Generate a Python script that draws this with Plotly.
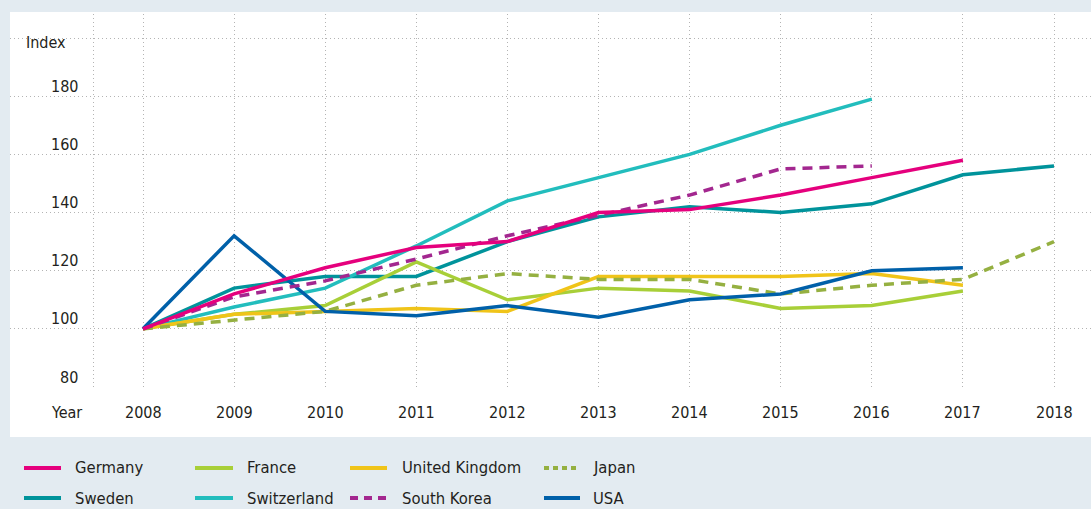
import plotly.graph_objects as go

years = [2008, 2009, 2010, 2011, 2012, 2013, 2014, 2015, 2016, 2017, 2018]
germany = [100, 112, 121, 128, 130, 140, 141, 146, 152, 158, None]
sweden = [100, 114, 118, 118, 130, 138.5, 142, 140, 143, 153, 156]
france = [100, 105, 108, 123, 110, 114, 113, 107, 108, 113, None]
switzerland = [100, 107.5, 114, 128.5, 144, 152, 160, 170, 179, None, None]
uk = [100, 105, 106, 107, 106, 118, 118, 118, 119, 115, None]
japan = [100, 103, 106, 115, 119, 117, 117, 112, 115, 117, 130]
south_korea = [100, 111, 116.5, 124, 132, 139, 146, 155, 156, None, None]
usa = [100, 132, 106, 104.5, 108, 104, 110, 112, 120, 121, None]

y_ticks = [80, 100, 120, 140, 160, 180]
x_tick_labels = [str(y) for y in years]

FONT = "DejaVu Sans Condensed"
TXT = "#231f20"
BG = "#e3ebf1"

# (name, data, color, dash)
series = [
    ("Sweden", sweden, "#00939b", None),
    ("Switzerland", switzerland, "#22bdbd", None),
    ("France", france, "#a8cf38", None),
    ("United Kingdom", uk, "#f0c419", None),
    ("Japan", japan, "#95b041", "10px,7px"),
    ("USA", usa, "#0060a9", None),
    ("South Korea", south_korea, "#a3278f", "10px,7px"),
    ("Germany", germany, "#e5007d", None),
]

fig = go.Figure()
for name, data, color, dash in series:
    fig.add_trace(go.Scatter(
        x=years, y=data, mode="lines", name=name,
        line=dict(color=color, width=3.5, dash=dash),
        connectgaps=False, showlegend=False,
    ))

W, H = 1091, 509
L, R, T, B = 10, 0, 14, 122
PW, PH = W - L - R, H - T - B


def px_x(px):
    return (px - L) / PW


def px_y(py):
    return (H - B - py) / PH


shapes = []
annotations = []

# white panel
shapes.append(dict(type="rect", xref="paper", yref="paper",
                   x0=px_x(10), x1=px_x(1095), y0=px_y(437), y1=px_y(12),
                   fillcolor="white", line=dict(width=0), layer="below"))

# y labels
for v in y_ticks:
    annotations.append(dict(x=px_x(80), xref="paper", y=v, yref="y",
                            text=str(v), showarrow=False, xanchor="right",
                            yanchor="middle", yshift=10,
                            font=dict(family=FONT, size=16, color=TXT)))
annotations.append(dict(x=px_x(68), xref="paper", y=px_y(42), yref="paper",
                        text="Index", showarrow=False, xanchor="right",
                        yanchor="middle",
                        font=dict(family=FONT, size=16, color=TXT)))
# x labels
for yr, lab in zip(years, x_tick_labels):
    annotations.append(dict(x=yr, xref="x", y=px_y(412), yref="paper",
                            text=lab, showarrow=False, xanchor="center",
                            yanchor="middle",
                            font=dict(family=FONT, size=16, color=TXT)))
annotations.append(dict(x=px_x(66), xref="paper", y=px_y(412), yref="paper",
                        text="Year", showarrow=False, xanchor="center",
                        yanchor="middle",
                        font=dict(family=FONT, size=16, color=TXT)))

# legend (manual)
legend_items = [
    ("Germany", "#e5007d", None, 24, 61, 73, 468),
    ("France", "#a8cf38", None, 195, 233, 245, 468),
    ("United Kingdom", "#f0c419", None, 350, 387, 400, 468),
    ("Japan", "#95b041", "5px,4px", 544, 580, 591, 468),
    ("Sweden", "#00939b", None, 24, 61, 73, 498),
    ("Switzerland", "#22bdbd", None, 195, 233, 245, 498),
    ("South Korea", "#a3278f", "8px,6px", 350, 387, 400, 498),
    ("USA", "#0060a9", None, 544, 580, 591, 498),
]
for name, color, dash, x0, x1, tx, yy in legend_items:
    shapes.append(dict(type="line", xref="paper", yref="paper",
                       x0=px_x(x0), x1=px_x(x1), y0=px_y(yy), y1=px_y(yy),
                       line=dict(color=color, width=4, dash=dash)))
    annotations.append(dict(x=px_x(tx), xref="paper", y=px_y(yy), yref="paper",
                            text=name, showarrow=False, xanchor="left",
                            yanchor="middle",
                            font=dict(family=FONT, size=16.5, color=TXT)))

x0_val = 2008 - (143 - 10) / 91.1
x1_val = 2018 + (1091 - 1054) / 91.1
grid_x = [2008 - 50 / 91.1] + years

fig.update_layout(
    width=W, height=H,
    margin=dict(l=L, r=R, t=T, b=B, pad=0),
    paper_bgcolor=BG, plot_bgcolor="rgba(0,0,0,0)",
    showlegend=False,
    shapes=shapes, annotations=annotations,
    xaxis=dict(range=[x0_val, x1_val], tickvals=grid_x, showticklabels=False,
               showgrid=True, gridcolor="#b4b4b4", griddash="1px,3px", gridwidth=1,
               zeroline=False, showline=False, ticks="", fixedrange=True),
    yaxis=dict(range=[80, 80 + PH / 2.908], tickvals=y_ticks + [200],
               showticklabels=False, showgrid=True, gridcolor="#b4b4b4",
               griddash="1px,3px", gridwidth=1, zeroline=False, showline=False,
               ticks="", fixedrange=True),
)

fig.write_html("out.html", config=dict(displayModeBar=False),
               post_script="document.body.style.margin='0';document.body.style.overflow='hidden';")
